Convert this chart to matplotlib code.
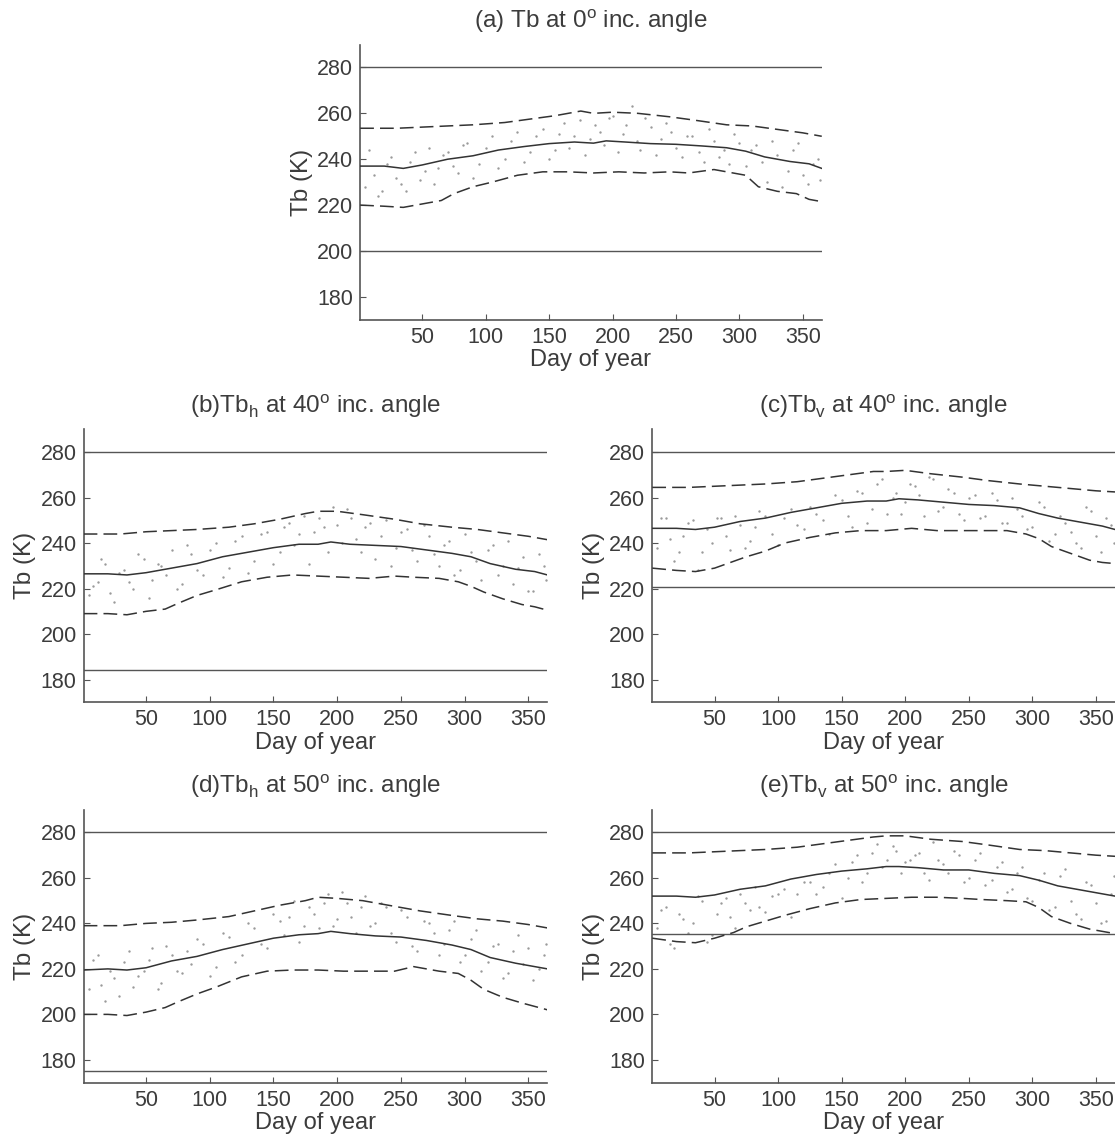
import matplotlib
matplotlib.use("Agg")
import matplotlib.pyplot as plt

# --- data (day of year, Tb in K) ---
titles = [
    "(a) Tb at 0$^{\\rm o}$ inc. angle",
    "(b)Tb$_{\\rm h}$ at 40$^{\\rm o}$ inc. angle",
    "(c)Tb$_{\\rm v}$ at 40$^{\\rm o}$ inc. angle",
    "(d)Tb$_{\\rm h}$ at 50$^{\\rm o}$ inc. angle",
    "(e)Tb$_{\\rm v}$ at 50$^{\\rm o}$ inc. angle",
]

mean_days = [1, 20, 35, 50, 70, 90, 110, 130, 150, 170, 185, 195, 210, 230, 250, 270, 290, 305, 320, 340, 355, 365]
mean_a = [237, 237, 236, 237.5, 240, 241.5, 244, 245.5, 246.8, 247.5, 247, 248, 247.5, 246.8, 246.5, 245.8, 245, 243.5, 241, 239, 238, 236]
mean_b = [226.5, 226.5, 226, 227, 229, 231, 234, 236, 238, 239.5, 239.5, 240.5, 239.5, 239, 238.5, 237, 235.5, 234, 231, 228.5, 227.5, 226]
mean_c = [246.5, 246.5, 246, 247, 249.5, 251, 253.5, 255.5, 257.5, 258.5, 258.5, 259.5, 259, 258, 257, 256.5, 255.5, 253, 251, 249, 247.5, 246]
mean_d = [219.5, 220, 219.5, 220.5, 223.5, 225.5, 228.5, 231, 233.5, 235, 235.5, 236.5, 235.5, 234.5, 234, 232.5, 230.5, 228.5, 225, 222.5, 221, 220]
mean_e = [252, 252, 251.5, 252.5, 255, 256.5, 259.5, 261.5, 263, 264, 265, 265, 264.5, 263.5, 263.5, 262, 261, 259, 256.5, 254.5, 253, 252]

up_days = [1, 30, 50, 70, 90, 115, 135, 155, 175, 185, 200, 220, 245, 265, 290, 310, 330, 350, 365]
up_a = [253.5, 253.5, 254, 254.5, 255, 256, 257.5, 259, 261, 260, 260.5, 260, 258.5, 257, 255, 254.5, 253, 251.5, 250]
up_b = [244, 244, 245, 245.5, 246, 247, 248.5, 250.5, 253, 254, 254, 252.5, 250.5, 248.5, 247, 246, 244.5, 243, 241.5]
up_c = [264.5, 264.5, 265, 265.5, 266, 267, 268.5, 270, 271.5, 271.5, 272, 270.5, 269, 267.5, 266, 265, 264, 263, 262.5]
up_d = [239, 239, 240, 240.5, 241.5, 243, 245.5, 248, 250, 251.5, 251, 250, 247.5, 245.5, 243.5, 242, 241, 239.5, 238]
up_e = [271, 271, 271.5, 272, 272.5, 273.5, 275, 276.5, 278, 278.5, 278.5, 277, 276, 274.5, 272.5, 272, 271, 270, 269.5]

low_days = [1, 20, 35, 50, 65, 75, 90, 105, 125, 145, 165, 185, 205, 225, 245, 260, 280, 295, 305, 315, 330, 345, 355, 365]
low_a = [220, 219.5, 219, 220.5, 222, 225, 228, 230, 233, 234.5, 234.5, 234, 234.5, 234, 234.5, 234, 235.5, 234, 233, 228, 226, 225, 222.5, 221.5]
low_b = [209, 209, 208.5, 210, 211, 213.5, 217, 219.5, 223, 225, 226, 225.5, 225, 224.5, 225.5, 225, 224.5, 223, 221, 218.5, 215.5, 213, 212, 210.5]
low_c = [229, 228, 227.5, 229, 232, 234, 236.5, 240, 242.5, 244.5, 245.5, 245.5, 246.5, 245.5, 245.5, 245.5, 245.5, 244, 242, 238.5, 235.5, 232.5, 231.5, 231]
low_d = [200, 200, 199.5, 201, 203, 205.5, 209, 212, 216.5, 219, 219.5, 219.5, 219, 219, 219, 221, 219, 218, 215, 211, 207.5, 205, 203.5, 202]
low_e = [233.5, 232, 231.5, 233.5, 236, 238.5, 241, 243.5, 246.5, 249, 250.5, 251, 251.5, 251.5, 251, 250.5, 250, 249.5, 247, 243, 240, 237.5, 236.5, 235.5]

max_bound = [280, 280, 280, 280, 280]
min_bound = [200, 184, 220.5, 175, 235.5]

# individual yearly samples (light grey dots), two passes
dot_days = [5, 12, 18, 25, 33, 40, 48, 55, 62, 70, 78, 85, 95, 105, 115, 125, 135, 145, 155, 162, 170, 178,
            186, 193, 200, 208, 215, 222, 230, 238, 246, 255, 263, 272, 280, 288, 296, 305, 313, 322, 330, 338, 346, 354, 362]
dots_a = [228, 233, 226, 241, 229, 239, 231, 245, 236, 243, 234, 247, 238, 250, 240, 252, 243, 253, 244, 256, 250, 242,
          255, 246, 259, 251, 263, 244, 254, 249, 252, 241, 250, 239, 248, 244, 251, 237, 246, 230, 242, 235, 247, 229, 240]
dots_b = [217, 223, 231, 214, 228, 220, 233, 224, 230, 237, 222, 235, 226, 240, 229, 243, 232, 245, 236, 249, 244, 231,
          251, 236, 248, 255, 242, 247, 233, 250, 238, 246, 232, 243, 230, 241, 228, 236, 224, 239, 230, 222, 234, 219, 230]
dots_c = [238, 251, 232, 243, 250, 236, 240, 251, 237, 248, 241, 254, 244, 251, 248, 256, 250, 261, 252, 263, 249, 266,
          253, 262, 258, 265, 252, 268, 256, 262, 250, 261, 252, 259, 249, 255, 246, 258, 241, 252, 245, 238, 254, 236, 248]
dots_d = [211, 226, 206, 216, 223, 212, 219, 229, 214, 226, 218, 222, 231, 221, 234, 226, 238, 229, 241, 243, 232, 247,
          238, 253, 242, 249, 236, 252, 240, 247, 232, 243, 228, 240, 226, 237, 223, 233, 219, 230, 216, 228, 222, 215, 226]
dots_e = [238, 247, 229, 242, 240, 250, 235, 249, 243, 253, 246, 247, 252, 255, 253, 258, 256, 266, 260, 270, 262, 275,
          268, 272, 267, 270, 262, 276, 266, 272, 258, 268, 257, 265, 254, 262, 251, 259, 246, 261, 250, 242, 257, 240, 253]

dot_days2 = [8, 15, 22, 29, 37, 44, 52, 59, 66, 74, 82, 90, 100, 110, 120, 130, 140, 150, 158, 166, 174, 182,
             190, 197, 204, 211, 219, 226, 234, 242, 250, 259, 268, 276, 284, 292, 300, 309, 318, 326, 334, 342, 350, 358, 364]
dots2_a = [244, 224, 238, 232, 226, 243, 235, 229, 242, 237, 246, 232, 245, 236, 248, 239, 250, 240, 251, 245, 257, 249,
           252, 258, 243, 255, 248, 258, 242, 256, 245, 250, 243, 253, 241, 238, 247, 244, 239, 248, 228, 244, 233, 238, 231]
dots2_b = [221, 233, 218, 227, 223, 235, 216, 231, 226, 220, 239, 228, 237, 225, 241, 227, 244, 231, 247, 239, 252, 245,
           247, 256, 240, 251, 236, 249, 243, 230, 245, 237, 248, 235, 239, 226, 244, 232, 237, 226, 241, 229, 219, 235, 224]
dots2_c = [251, 242, 236, 249, 228, 246, 251, 243, 252, 238, 247, 252, 239, 255, 246, 253, 244, 259, 247, 262, 255, 268,
           260, 253, 266, 261, 269, 254, 264, 253, 260, 251, 262, 249, 260, 252, 247, 256, 244, 249, 240, 256, 243, 251, 240]
dots2_d = [224, 213, 219, 208, 228, 217, 224, 211, 230, 219, 228, 233, 217, 236, 223, 240, 231, 244, 235, 250, 239, 244,
           249, 239, 254, 243, 247, 239, 249, 236, 246, 230, 241, 236, 231, 241, 226, 237, 223, 231, 218, 235, 229, 220, 231]
dots2_e = [246, 231, 244, 236, 252, 232, 244, 251, 238, 249, 256, 245, 253, 243, 258, 253, 262, 251, 267, 258, 271, 265,
           274, 262, 268, 271, 259, 268, 262, 270, 260, 271, 259, 267, 255, 265, 250, 262, 247, 264, 244, 258, 249, 241, 261]

means = [mean_a, mean_b, mean_c, mean_d, mean_e]
uppers = [up_a, up_b, up_c, up_d, up_e]
lowers = [low_a, low_b, low_c, low_d, low_e]
dots = [dots_a, dots_b, dots_c, dots_d, dots_e]
dots2 = [dots2_a, dots2_b, dots2_c, dots2_d, dots2_e]

# axes boxes in figure fractions: left, bottom, width, height
boxes = [
    (0.323, 0.720, 0.414, 0.241),
    (0.075, 0.385, 0.416, 0.239),
    (0.585, 0.385, 0.415, 0.239),
    (0.075, 0.052, 0.416, 0.239),
    (0.585, 0.052, 0.415, 0.239),
]

txt = "#3c3c3c"
line = "#333333"
plt.rcParams["font.family"] = ["Liberation Sans", "DejaVu Sans"]
plt.rcParams["mathtext.fontset"] = "custom"
plt.rcParams["mathtext.rm"] = "Liberation Sans"

fig = plt.figure(figsize=(11.15, 11.42), dpi=100)

for i in range(5):
    ax = fig.add_axes(boxes[i])
    ax.scatter(dot_days, dots[i], s=3, color="#9a9a9a", linewidths=0, zorder=1)
    ax.scatter(dot_days2, dots2[i], s=3, color="#9a9a9a", linewidths=0, zorder=1)
    ax.plot(mean_days, means[i], color=line, lw=1.1, zorder=3)
    ax.plot(up_days, uppers[i], color=line, lw=1.1, dashes=(9, 4), zorder=3)
    ax.plot(low_days, lowers[i], color=line, lw=1.1, dashes=(9, 4), zorder=3)
    ax.axhline(max_bound[i], color="#555555", lw=1.0, zorder=2)
    ax.axhline(min_bound[i], color="#555555", lw=1.0, zorder=2)

    ax.set_xlim(1, 365)
    ax.set_ylim(170, 290)
    ax.set_xticks([50, 100, 150, 200, 250, 300, 350])
    ax.set_yticks([180, 200, 220, 240, 260, 280])
    ax.tick_params(direction="in", length=4, labelsize=15.5, colors="#555555", labelcolor=txt, pad=5)
    for s in ["top", "right"]:
        ax.spines[s].set_visible(False)
    for s in ["left", "bottom"]:
        ax.spines[s].set_color("#555555")
        ax.spines[s].set_linewidth(1.2)
    ax.set_xlabel("Day of year", fontsize=17, color=txt, labelpad=1)
    ax.set_ylabel("Tb (K)", fontsize=17.5, color=txt, labelpad=3)
    ax.set_title(titles[i], fontsize=17.5, color=txt, pad=12)

fig.savefig("out.png", dpi=100)
